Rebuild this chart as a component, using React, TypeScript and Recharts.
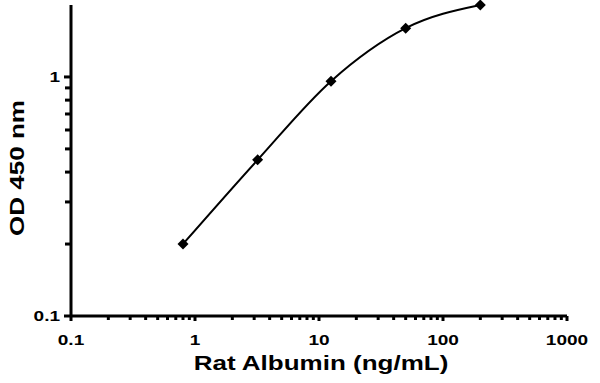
import { LineChart, Line, XAxis, YAxis } from "recharts";

// valores (log-log)
const concentracoes = [0.8, 3.2, 12.5, 50, 200];
const densidadesOpticas = [0.2, 0.45, 0.96, 1.6, 2.0];

const xMajor = [0.1, 1, 10, 100, 1000];
const yMajor = [0.1, 1];
const xMinor = [0.1, 1, 10, 100].flatMap((d) =>
  [2, 3, 4, 5, 6, 7, 8, 9].map((m) => +(d * m).toPrecision(3))
);
const yMinor = [0.2, 0.3, 0.4, 0.5, 0.6, 0.7, 0.8, 0.9];

const xTicks = [...xMajor, ...xMinor].sort((a, b) => a - b);
const yTicks = [...yMajor, ...yMinor].sort((a, b) => a - b);

const dados = concentracoes.map((c, i) => ({ x: c, y: densidadesOpticas[i] }));

const FONTE = "'Liberation Sans', Arial, sans-serif";
const ESTICA = 1.27; // o original está esticado na horizontal

const TickX = (props: any) => {
  const { x, y, payload } = props;
  const major = xMajor.includes(payload.value);
  return (
    <g transform={`translate(${x},${y})`}>
      <line x1={0} y1={0} x2={0} y2={major ? 5 : 4} stroke="#000" strokeWidth={3} />
      {major && (
        <text
          transform={`scale(${ESTICA},1)`}
          x={0}
          y={29}
          textAnchor="middle"
          fontFamily={FONTE}
          fontWeight="bold"
          fontSize={15}
          fill="#000"
        >
          {String(payload.value)}
        </text>
      )}
    </g>
  );
};

const TickY = (props: any) => {
  const { x, y, payload } = props;
  const major = yMajor.includes(payload.value);
  return (
    <g transform={`translate(${x},${y})`}>
      <line x1={0} y1={0} x2={major ? -7 : -6} y2={0} stroke="#000" strokeWidth={3} />
      {major && (
        <text
          transform={`scale(${ESTICA},1)`}
          x={-11 / ESTICA}
          y={5}
          textAnchor="end"
          fontFamily={FONTE}
          fontWeight="bold"
          fontSize={15}
          fill="#000"
        >
          {String(payload.value)}
        </text>
      )}
    </g>
  );
};

const TituloX = (props: any) => {
  const { viewBox } = props;
  const cx = viewBox.x + viewBox.width / 2 + 2;
  return (
    <g transform={`translate(${cx},${viewBox.y + 54})`}>
      <text
        transform={`scale(1.3,1)`}
        textAnchor="middle"
        fontFamily={FONTE}
        fontWeight="bold"
        fontSize={20}
        fill="#000"
      >
        Rat Albumin (ng/mL)
      </text>
    </g>
  );
};

const TituloY = () => (
  <g transform={`translate(24,168) rotate(-90)`}>
    <text
      transform={`scale(1.3,1)`}
      textAnchor="middle"
      fontFamily={FONTE}
      fontWeight="bold"
      fontSize={20}
      fill="#000"
    >
      OD 450 nm
    </text>
  </g>
);

const Losango = (props: any) => {
  const { cx, cy, index } = props;
  if (cx == null || cy == null) return <g key={index} />;
  const r = 5.5;
  return (
    <path
      key={index}
      d={`M${cx},${cy - r}L${cx + r},${cy}L${cx},${cy + r}L${cx - r},${cy}Z`}
      fill="#000"
    />
  );
};

export default function App() {
  return (
    <div style={{ position: "absolute", left: 0, top: 0, background: "#fff" }}>
      <LineChart
        width={600}
        height={383}
        data={dados}
        margin={{ top: 5, right: 33, left: 0, bottom: 0 }}
      >
        <XAxis
          dataKey="x"
          type="number"
          scale="log"
          domain={[0.1, 1000]}
          ticks={xTicks}
          interval={0}
          tickSize={0}
          tickMargin={0}
          tickLine={false}
          tick={<TickX />}
          height={67}
          axisLine={{ stroke: "#000", strokeWidth: 3 }}
          label={{ content: <TituloX /> }}
        />
        <YAxis
          dataKey="y"
          type="number"
          scale="log"
          domain={[0.1, 2]}
          ticks={yTicks}
          interval={0}
          tickSize={0}
          tickMargin={0}
          tickLine={false}
          tick={<TickY />}
          width={71}
          axisLine={{ stroke: "#000", strokeWidth: 3 }}
          label={{ content: <TituloY /> }}
        />
        <Line
          type="monotone"
          dataKey="y"
          stroke="#000"
          strokeWidth={2}
          dot={<Losango />}
          activeDot={false}
          isAnimationActive={false}
        />
      </LineChart>
    </div>
  );
}
